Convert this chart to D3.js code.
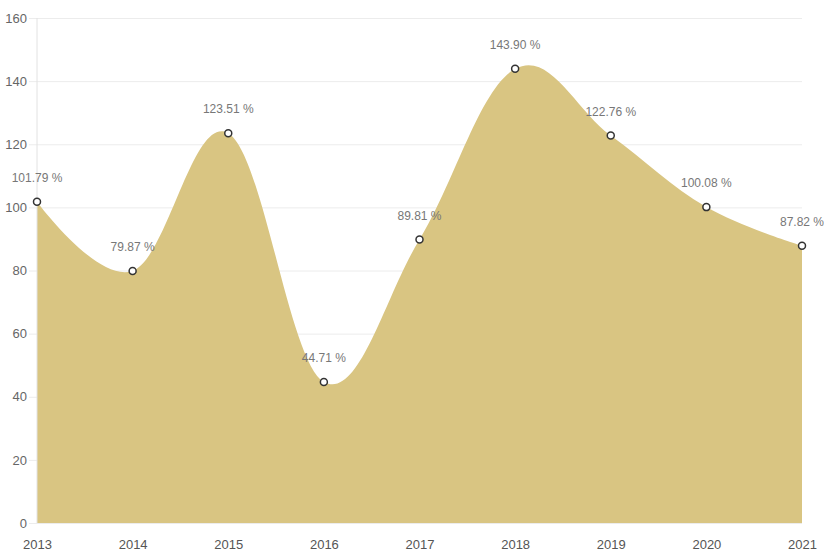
<!DOCTYPE html>
<html>
<head>
<meta charset="utf-8">
<script src="https://cdn.jsdelivr.net/npm/d3@7"></script>
<style>
  body { margin: 0; background: #fff; }
  text { font-family: "Liberation Sans", Arial, sans-serif; }
</style>
</head>
<body>
<div id="chart"></div>
<script>
var years = ["2013", "2014", "2015", "2016", "2017", "2018", "2019", "2020", "2021"];
var values = [101.79, 79.87, 123.51, 44.71, 89.81, 143.90, 122.76, 100.08, 87.82];
var yTicks = [0, 20, 40, 60, 80, 100, 120, 140, 160];

var W = 824, H = 555;
var margin = { left: 37, right: 22, top: 18, bottom: 32 };
var width = W - margin.left - margin.right;
var height = H - margin.top - margin.bottom;

var svg = d3.select("#chart").append("svg")
    .attr("width", W)
    .attr("height", H);

var g = svg.append("g")
    .attr("transform", "translate(" + margin.left + "," + margin.top + ")");

var x = d3.scalePoint().domain(years).range([0, width]);
var y = d3.scaleLinear().domain([0, 160]).range([height, 0]);

// gridlines + y labels
var yAxis = g.append("g")
    .call(d3.axisLeft(y).tickValues(yTicks).tickSizeInner(-width).tickSizeOuter(0).tickPadding(10));
yAxis.select(".domain").remove();
yAxis.selectAll(".tick line")
    .attr("x1", -8)
    .attr("stroke", "#ececec");
yAxis.selectAll(".tick text")
    .attr("fill", "#666")
    .style("font-size", "13px");

// area
var data = years.map(function (d, i) { return { year: d, value: values[i] }; });

var area = d3.area()
    .x(function (d) { return x(d.year); })
    .y0(height)
    .y1(function (d) { return y(d.value); })
    .curve(d3.curveCardinal.tension(-0.1));

g.append("path")
    .datum(data)
    .attr("d", area)
    .attr("fill", "#d9c582");

// y axis line
g.append("line")
    .attr("x1", 0).attr("x2", 0)
    .attr("y1", 0).attr("y2", height)
    .attr("stroke", "#e2e2e2");

// x labels
var xAxis = g.append("g")
    .attr("transform", "translate(0," + height + ")")
    .call(d3.axisBottom(x).tickSize(0).tickPadding(17));
xAxis.select(".domain").remove();
xAxis.selectAll(".tick text")
    .attr("fill", "#555")
    .style("font-size", "13px");

// points
g.selectAll(".pt")
    .data(data)
    .enter()
    .append("circle")
    .attr("class", "pt")
    .attr("cx", function (d) { return x(d.year); })
    .attr("cy", function (d) { return y(d.value); })
    .attr("r", 3.5)
    .attr("fill", "#fff")
    .attr("stroke", "#333")
    .attr("stroke-width", 1.5);

// value labels
g.selectAll(".lbl")
    .data(data)
    .enter()
    .append("text")
    .attr("class", "lbl")
    .attr("x", function (d) { return x(d.year); })
    .attr("y", function (d) { return y(d.value) - 20; })
    .attr("text-anchor", "middle")
    .attr("fill", "#777")
    .style("font-size", "12px")
    .text(function (d) { return d.value.toFixed(2) + " %"; });
</script>
</body>
</html>
